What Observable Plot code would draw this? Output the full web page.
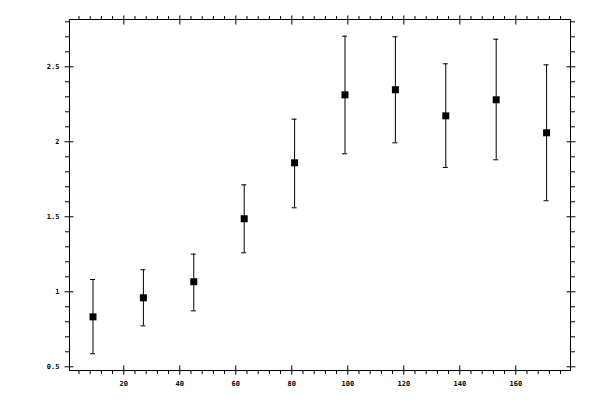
<!DOCTYPE html>
<html><head><meta charset="utf-8">
<script src="https://cdn.jsdelivr.net/npm/d3@7"></script>
<script src="https://cdn.jsdelivr.net/npm/@observablehq/plot@0.6"></script>
<style>body{margin:0;background:#fff}</style>
</head><body><div id="chart"></div>
<script>
const xValues = [9, 27, 45, 63, 81, 99, 117, 135, 153, 171];
const yValues = [0.833, 0.96, 1.067, 1.487, 1.86, 2.313, 2.347, 2.173, 2.28, 2.06];
const yLow    = [0.587, 0.773, 0.873, 1.26, 1.56, 1.92, 1.993, 1.829, 1.88, 1.607];
const yHigh   = [1.082, 1.147, 1.251, 1.713, 2.151, 2.704, 2.70, 2.52, 2.684, 2.513];
const xMajor = [20, 40, 60, 80, 100, 120, 140, 160];
const xMinor = d3.range(4, 180, 4).filter(v => v % 20 !== 0);
const yMajor = [0.5, 1, 1.5, 2, 2.5];
const yMinor = d3.range(6, 29).map(v => v / 10).filter(v => Math.round(v * 10) % 5 !== 0);

const data = xValues.map((x, i) => ({x, y: yValues[i], lo: yLow[i], hi: yHigh[i]}));
const blank = () => "";
const fmt = d => String(d);

const chart = Plot.plot({
  width: 600, height: 400,
  marginLeft: 69, marginRight: 30, marginTop: 19, marginBottom: 30,
  style: {fontFamily: "DejaVu Sans Mono", fontSize: "7px", background: "white", color: "black"},
  x: {domain: [0.61, 179.54]},
  y: {domain: [0.4753, 2.8153]},
  marks: [
    Plot.frame({stroke: "black"}),
    // major ticks crossing axes
    Plot.axisX(xMajor, {anchor: "bottom", tickSize: 9, dy: -4.5, tickFormat: blank, label: null}),
    Plot.axisX(xMajor, {anchor: "top", tickSize: 9, dy: 4.5, tickFormat: blank, label: null}),
    Plot.axisY(yMajor, {anchor: "left", tickSize: 9, dx: 4.5, tickFormat: blank, label: null}),
    Plot.axisY(yMajor, {anchor: "right", tickSize: 9, dx: -4.5, tickFormat: blank, label: null}),
    // minor ticks outside
    Plot.axisX(xMinor, {anchor: "bottom", tickSize: 4, tickFormat: blank, label: null}),
    Plot.axisX(xMinor, {anchor: "top", tickSize: 4, tickFormat: blank, label: null}),
    Plot.axisY(yMinor, {anchor: "left", tickSize: 4, tickFormat: blank, label: null}),
    Plot.axisY(yMinor, {anchor: "right", tickSize: 4, tickFormat: blank, label: null}),
    // labels
    Plot.axisX(xMajor, {anchor: "bottom", tickSize: 0, tickPadding: 11, tickFormat: fmt, label: null, fontSize: 7, fontWeight: "bold", fill: "black"}),
    Plot.axisY(yMajor, {anchor: "left", tickSize: 0, tickPadding: 10, tickFormat: fmt, label: null, fontSize: 7, fontWeight: "bold", fill: "black"}),
    // error bars
    Plot.ruleX(data, {x: "x", y1: "lo", y2: "hi", stroke: "black", strokeWidth: 1}),
    Plot.ruleY(data, {y: "hi", x1: "x", x2: "x", insetLeft: -2.5, insetRight: -2.5, stroke: "black"}),
    Plot.ruleY(data, {y: "lo", x1: "x", x2: "x", insetLeft: -2.5, insetRight: -2.5, stroke: "black"}),
    Plot.dot(data, {x: "x", y: "y", symbol: "square", r: 3.95, fill: "black", stroke: "none"})
  ]
});
document.getElementById("chart").append(chart);
</script>
</body></html>
